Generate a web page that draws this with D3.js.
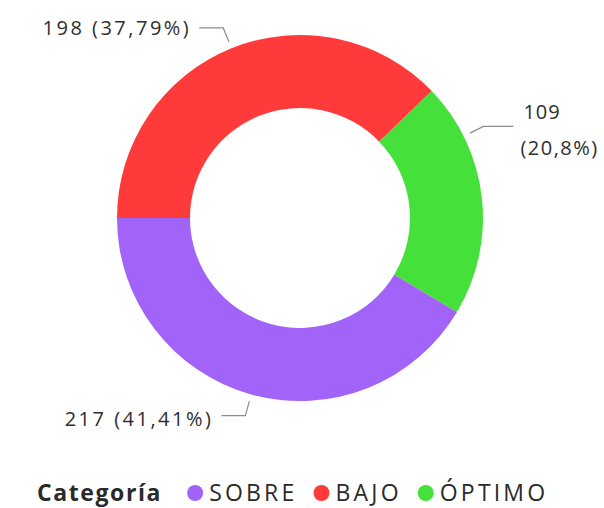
<!DOCTYPE html>
<html lang="es">
<head>
    <meta charset="UTF-8">
    <title>Categoría donut</title>
    <script src="https://d3js.org/d3.v7.min.js"></script>
    <style>
        body { margin: 0; background: #fff; }
        svg { display: block; }
        .lbl { font-family: "Open Sans", "Segoe UI", sans-serif; fill: #2e2e2e; font-size: 20px; letter-spacing: 2.5px; }
        .leader { fill: none; stroke: #8c8c8c; stroke-width: 1.2px; }
        .legend text { font-family: "Open Sans", "Segoe UI", sans-serif; fill: #2a2a2a; font-size: 23px; }
        .legend .title { font-weight: bold; letter-spacing: 1.6px; }
        .legend .item { letter-spacing: 3.2px; }
    </style>
</head>
<body>
<svg id="chart" width="604" height="508"></svg>
<script>
// chart data
const categories = ["SOBRE", "BAJO", "ÓPTIMO"];
const values = [217, 198, 109];
const percentLabels = ["41,41%", "37,79%", "20,8%"];
const colors = ["#A263F8", "#FF3A3A", "#46E03A"];

// label placement tweaks (degrees added to slice mid angle)
const labelShift = { "SOBRE": 0, "BAJO": 0, "ÓPTIMO": -20 };

const svg = d3.select("#chart");
const cx = 300, cy = 218;
const outerR = 183, innerR = 110;

const data = categories.map((c, i) => ({ cat: c, value: values[i], pct: percentLabels[i], color: colors[i] }));

// SOBRE ends exactly at 9 o'clock
const total = d3.sum(values);
const start = 1.5 * Math.PI - (values[0] / total) * 2 * Math.PI;

const pie = d3.pie()
    .value(d => d.value)
    .sort(null)
    .startAngle(start)
    .endAngle(start + 2 * Math.PI);

const arc = d3.arc().innerRadius(innerR).outerRadius(outerR);

const g = svg.append("g").attr("transform", `translate(${cx},${cy})`);

const arcs = pie(data);

g.selectAll("path.slice")
    .data(arcs)
    .join("path")
    .attr("class", "slice")
    .attr("d", arc)
    .attr("fill", d => d.data.color);

// leader lines and labels
const pt = (a, r) => [r * Math.sin(a), -r * Math.cos(a)];

arcs.forEach(d => {
    const a = (d.startAngle + d.endAngle) / 2 + labelShift[d.data.cat] * Math.PI / 180;
    const p0 = pt(a, 190);
    const p1 = pt(a, 205);
    const right = Math.sin(a) > 0;
    const p2 = [p1[0] + (right ? 30 : -24), p1[1]];

    g.append("path")
        .attr("class", "leader")
        .attr("d", d3.line()([p0, p1, p2]));

    const tx = p2[0] + (right ? 10 : -8);
    if (right) {
        // two lines: value above, percent below
        g.append("text").attr("class", "lbl")
            .attr("x", tx).attr("y", p2[1] - 15)
            .attr("dy", "0.36em")
            .style("letter-spacing", "1px")
            .text(d.data.value);
        g.append("text").attr("class", "lbl")
            .attr("x", tx - 3).attr("y", p2[1] + 21)
            .attr("dy", "0.36em")
            .style("letter-spacing", "1.5px")
            .text(`(${d.data.pct})`);
    } else {
        g.append("text").attr("class", "lbl")
            .attr("x", tx).attr("y", p2[1] + (Math.cos(a) < 0 ? 3 : 0))
            .attr("dy", "0.36em")
            .attr("text-anchor", "end")
            .text(`${d.data.value} (${d.data.pct})`);
    }
});

// legend
const legend = svg.append("g").attr("class", "legend").attr("transform", "translate(37,493)");

const title = legend.append("text")
    .attr("class", "title")
    .attr("x", 0).attr("dy", "0.36em")
    .text("Categoría");

let lx = title.node().getComputedTextLength() + 33;
data.forEach(d => {
    const item = legend.append("g").attr("transform", `translate(${lx},0)`);
    item.append("circle").attr("cx", 0).attr("cy", 0).attr("r", 8).attr("fill", d.color);
    const t = item.append("text")
        .attr("class", "item")
        .attr("x", 14).attr("dy", "0.36em")
        .text(d.cat);
    lx += 14 + t.node().getComputedTextLength() + 24;
});
</script>
</body>
</html>
